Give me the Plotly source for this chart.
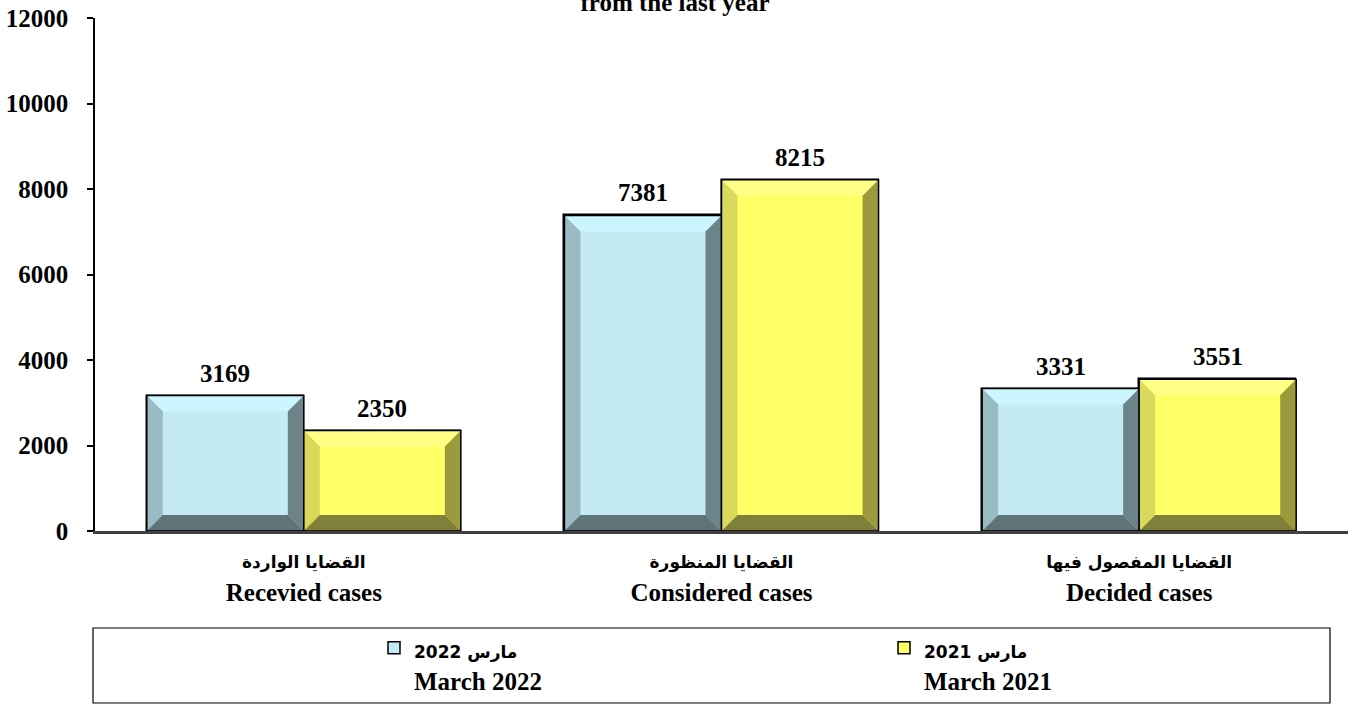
import plotly.graph_objects as go

categories_ar = ["القضايا الواردة", "القضايا المنظورة", "القضايا المفصول فيها"]
categories_en = ["Recevied cases", "Considered cases", "Decided cases"]
march_2022 = [3169, 7381, 3331]
march_2021 = [2350, 8215, 3551]
series_names_ar = ["2022 مارس", "2021 مارس"]
series_names_en = ["March 2022", "March 2021"]
title_text = "from the last year"
y_ticks = [0, 2000, 4000, 6000, 8000, 10000, 12000]

W, H = 1357, 711
ML, MR, MT, MB = 95, 9, 18, 180
plot_w = W - ML - MR
plot_h = H - MT - MB
x_range = [-0.5, 2.5]
y_range = [0, 12000]
ux = plot_w / (x_range[1] - x_range[0])
uy = plot_h / (y_range[1] - y_range[0])

SERIF = "Liberation Serif, Times New Roman, serif"
AR_FONT = "DejaVu Sans"

bar_w = 0.376
bev = 16
dx = bev / ux
dy = bev / uy

styles = [
    dict(face="#C4EBF4", top="#CBF5FF", left="#9BBBC4", right="#6B8389", bottom="#5F7479"),
    dict(face="#FFFF66", top="#FFFF85", left="#D9D95C", right="#9B9B3D", bottom="#80803A"),
]
series = [march_2022, march_2021]
offsets = [-bar_w, 0.0]

xs = list(range(len(categories_en)))
fig = go.Figure()
for i, vals in enumerate(series):
    fig.add_trace(go.Bar(
        x=xs, y=vals, width=bar_w, offset=offsets[i],
        name=f"<span style='font-family:{AR_FONT};font-size:17px'><b>{series_names_ar[i]}</b></span><br><b>{series_names_en[i]}</b>",
        marker=dict(color=styles[i]["face"], line=dict(color="black", width=1.5)),
        hoverinfo="skip",
    ))

shapes = []
annotations = []
for i, vals in enumerate(series):
    st = styles[i]
    for c, v in zip(xs, vals):
        x0 = c + offsets[i]
        x1 = x0 + bar_w
        polys = [
            ("top", [(x0, v), (x1, v), (x1 - dx, v - dy), (x0 + dx, v - dy)]),
            ("left", [(x0, 0), (x0, v), (x0 + dx, v - dy), (x0 + dx, dy)]),
            ("right", [(x1, 0), (x1, v), (x1 - dx, v - dy), (x1 - dx, dy)]),
            ("bottom", [(x0, 0), (x1, 0), (x1 - dx, dy), (x0 + dx, dy)]),
        ]
        for key, pts in polys:
            path = "M " + " L ".join(f"{px},{py}" for px, py in pts) + " Z"
            shapes.append(dict(type="path", path=path, xref="x", yref="y",
                               fillcolor=st[key], line=dict(width=0), layer="above"))
        shapes.append(dict(type="rect", x0=x0, x1=x1, y0=0, y1=v, xref="x", yref="y",
                           line=dict(color="black", width=1.5), fillcolor="rgba(0,0,0,0)", layer="above"))
        annotations.append(dict(x=x0 + bar_w / 2, y=v, xref="x", yref="y", text=f"<b>{v}</b>",
                                showarrow=False, yanchor="bottom", yshift=7,
                                font=dict(family=SERIF, size=25, color="black")))

# legend box
box_x0, box_x1, box_y0, box_y1 = 93, 1330, 628, 703
shapes.append(dict(type="rect", xref="paper", yref="paper",
                   x0=(box_x0 - ML) / plot_w, x1=(box_x1 - ML) / plot_w,
                   y0=(H - MB - box_y1) / plot_h, y1=(H - MB - box_y0) / plot_h,
                   line=dict(color="black", width=1.2), fillcolor="rgba(0,0,0,0)"))

ticktext = [f"<span style='font-family:{AR_FONT};font-size:17px'><b>{a}</b></span><br><b>{e}</b>"
            for a, e in zip(categories_ar, categories_en)]

fig.update_layout(
    width=W, height=H,
    margin=dict(l=ML, r=MR, t=MT, b=MB, autoexpand=False),
    paper_bgcolor="white", plot_bgcolor="white",
    font=dict(family=SERIF, size=25, color="black"),
    title=dict(text=f"<b>{title_text}</b>", x=675 / W, xanchor="center",
               y=1 - 11 / H, yanchor="bottom", yref="container",
               font=dict(family=SERIF, size=25, color="black")),
    showlegend=True,
    legend=dict(orientation="h", xref="container", yref="container",
                x=374 / W, xanchor="left", y=1 - 625 / H, yanchor="top",
                entrywidth=465, entrywidthmode="pixels", valign="top", itemwidth=30,
                font=dict(family=SERIF, size=25, color="black"),
                bgcolor="rgba(0,0,0,0)", borderwidth=0, traceorder="normal"),
    xaxis=dict(range=x_range, tickvals=xs, ticktext=ticktext, showgrid=False,
               showline=True, linecolor="#404040", linewidth=3, ticks="",
               zeroline=False, ticklabelstandoff=4,
               tickfont=dict(family=SERIF, size=25, color="black")),
    yaxis=dict(range=y_range, tickvals=y_ticks, ticktext=[f"<b>{t}</b>" for t in y_ticks],
               showgrid=False, showline=True, linecolor="black", linewidth=1.5,
               ticks="outside", ticklen=6, tickwidth=1.5, tickcolor="black",
               zeroline=False, ticklabelstandoff=14,
               tickfont=dict(family=SERIF, size=25, color="black")),
    shapes=shapes, annotations=annotations,
    bargap=0, barmode="overlay",
)

fig.write_html("out.html", config={"displayModeBar": False},
               post_script="document.body.style.margin='0';document.body.style.overflow='hidden';")
